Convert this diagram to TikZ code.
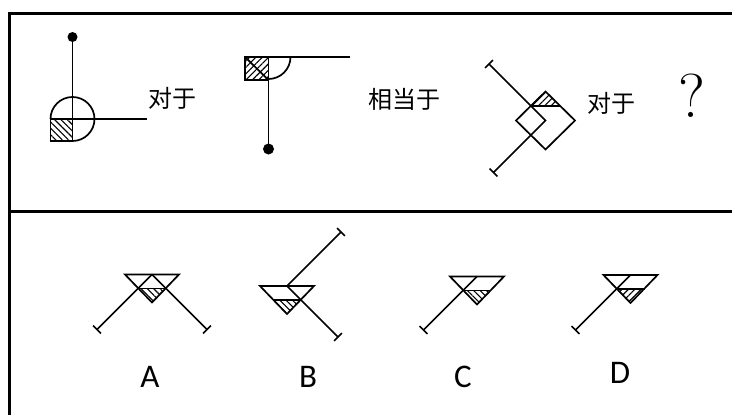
\documentclass[tikz,border=0pt]{standalone}
\usepackage{fontspec}
\newfontfamily\cjk{Noto Sans CJK SC}
\newfontfamily\lab{Carlito}
\usetikzlibrary{patterns.meta,calc}
\begin{document}
\begin{tikzpicture}[x=1pt,y=-1pt,
  fig/.style={line width=1.7pt,line join=miter,line cap=butt},
  frameline/.style={line width=3pt},
  hatchbs/.style={pattern={Lines[angle=-45,distance=4.5pt,line width=1.1pt]}},
  hatchfs/.style={pattern={Lines[angle=45,distance=4.5pt,line width=1.1pt]}},
  cjktext/.style={font=\cjk\fontsize{24pt}{24pt}\selectfont,inner sep=0pt},
  labtext/.style={font=\lab\fontsize{33pt}{33pt}\selectfont,inner sep=0pt}]
\useasboundingbox (0,0) rectangle (732,415);
% frame
\draw[frameline] (9.5,415) -- (9.5,13.5) -- (732,13.5);
\draw[frameline] (9.5,211) -- (732,211);
% tick helper
\newcommand\tickend[2]{\draw[fig] ($(#2)!5.5pt!90:(#1)$) -- ($(#2)!5.5pt!-90:(#1)$);}
% ---------- figure 1
\coordinate (c1) at (72.5,119);
\coordinate (d1) at (72.5,37);
\coordinate (r1) at (147,119);
\draw[fig,hatchbs] (50.5,119) rectangle (72.5,141);
\draw[fig] (72.5,141) arc[start angle=-90,end angle=180,radius=22pt];
\draw[fig] (c1) -- (d1);
\draw[fig] (c1) -- (r1);
\fill (d1) circle[radius=5pt];
\node[cjktext] (t1) at (172,98) {对于};
% ---------- figure 2
\coordinate (s2) at (245,57);
\coordinate (e2) at (350,57);
\coordinate (k2) at (268.5,80);
\coordinate (d2) at (268.5,149);
\draw[fig,hatchfs] (245,57) rectangle (268.5,80);
\draw[fig] (245,57) -- (268.5,80);
\draw[fig] (s2) -- (e2);
\draw[fig] (290.5,57) arc[start angle=0,end angle=-90,radius=22pt];
\draw[fig] (k2) -- (d2);
\fill (d2) circle[radius=5.5pt];
\node[cjktext] (t2) at (404,99) {相当于};
% ---------- figure 3
\coordinate (BL) at (516,120.5);
\coordinate (BT) at (545.5,91.5);
\coordinate (BR) at (575,120.5);
\coordinate (BB) at (545.5,149.5);
\coordinate (BC) at (545.5,120.5);
\coordinate (AT) at (531,106);
\coordinate (AB) at (531,135);
\coordinate (HR) at (560,106);
\coordinate (T1) at (489,64);
\coordinate (T2) at (493.5,172.5);
\fill[hatchfs] (AT) -- (BT) -- (HR) -- cycle;
\draw[fig] (BL) -- (BT) -- (BR) -- (BB) -- cycle;
\draw[fig] (AT) -- (BC) -- (AB);
\draw[fig] (AT) -- (HR);
\draw[fig] (AT) -- (T1);
\draw[fig] (AB) -- (T2);
\tickend{AT}{T1}
\tickend{AB}{T2}
\node[cjktext] (t3) at (611,103) {对于};
\node[font=\fontsize{62pt}{62pt}\selectfont,inner sep=0pt] (q) at (692,96) {?};
% ---------- option A
\coordinate (AM) at (152,274.5);
\coordinate (Al) at (125,274.5);
\coordinate (Ar) at (179,274.5);
\coordinate (Ab) at (152,302.5);
\coordinate (Ahl) at (138,288.5);
\coordinate (Ahr) at (166,288.5);
\coordinate (Ae1) at (97,329.5);
\coordinate (Ae2) at (207,329.5);
\fill[hatchbs] (Ahl) -- (Ahr) -- (Ab) -- cycle;
\draw[fig] (Al) -- (Ar) -- (Ab) -- cycle;
\draw[fig] (Ahl) -- (Ahr);
\draw[fig] (AM) -- (Ae1);
\draw[fig] (AM) -- (Ae2);
\tickend{AM}{Ae1}
\tickend{AM}{Ae2}
\node[labtext] (la) at (150,377) {A};
% ---------- option B
\coordinate (BM) at (287,286);
\coordinate (Bl) at (260,286);
\coordinate (Br) at (314,286);
\coordinate (Bb) at (287,314);
\coordinate (Bhl) at (273,300);
\coordinate (Bhr) at (301,300);
\coordinate (Be1) at (341,232);
\coordinate (Be2) at (338,337);
\fill[hatchbs] (Bhl) -- (Bhr) -- (Bb) -- cycle;
\draw[fig] (Bl) -- (Br) -- (Bb) -- cycle;
\draw[fig] (Bhl) -- (Bhr);
\draw[fig] (BM) -- (Be1);
\draw[fig] (BM) -- (Be2);
\tickend{BM}{Be1}
\tickend{BM}{Be2}
\node[labtext] (lb) at (308,377) {B};
% ---------- option C
\coordinate (CM) at (477,276.5);
\coordinate (Cl) at (450,276.5);
\coordinate (Cr) at (504,276.5);
\coordinate (Cb) at (477,304.5);
\coordinate (Chl) at (463,290.5);
\coordinate (Chr) at (491,290.5);
\coordinate (Ce1) at (423.5,330);
\fill[hatchbs] (Chl) -- (Chr) -- (Cb) -- cycle;
\draw[fig] (Cl) -- (Cr) -- (Cb) -- cycle;
\draw[fig] (Chl) -- (Chr);
\draw[fig] (CM) -- (Ce1);
\tickend{CM}{Ce1}
\node[labtext] (lc) at (463,377) {C};
% ---------- option D
\coordinate (DM) at (630.5,275);
\coordinate (Dl) at (603.5,275);
\coordinate (Dr) at (657.5,275);
\coordinate (Db) at (630.5,303);
\coordinate (Dhl) at (616.5,289);
\coordinate (Dhr) at (644.5,289);
\coordinate (De1) at (575.5,330);
\fill[hatchfs] (Dhl) -- (Dhr) -- (Db) -- cycle;
\draw[fig] (Dl) -- (Dr) -- (Db) -- cycle;
\draw[fig] (Dhl) -- (Dhr);
\draw[fig] (DM) -- (De1);
\tickend{DM}{De1}
\node[labtext] (ld) at (620,373) {D};
\end{tikzpicture}
\end{document}
